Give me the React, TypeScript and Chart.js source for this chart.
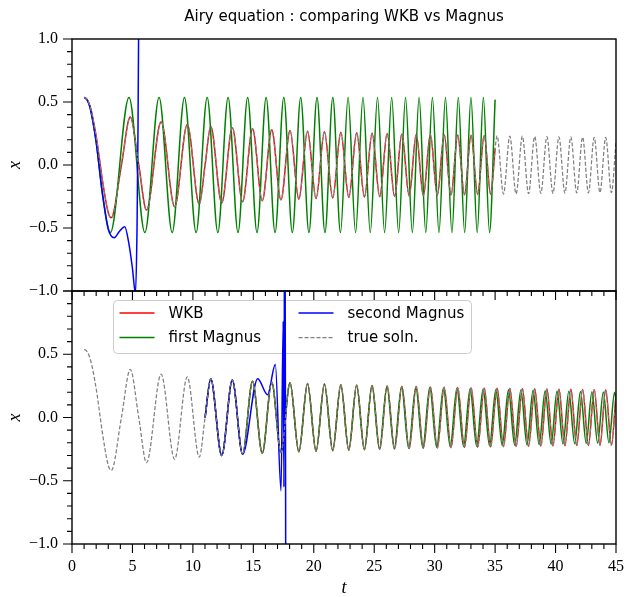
import React, { useEffect, useRef } from "react";
import { Chart, registerables } from "chart.js";

Chart.register(...registerables);

const TITLE = "Airy equation : comparing WKB vs Magnus";
const T_MIN = 0;
const T_MAX = 45;
const X_MIN = -1;
const X_MAX = 1;
const T_STEP = 5;
const X_STEP = 0.5;
const WKB_TOP_END = 35;
const LOWER_START = 11.0085;
const LEGEND_LABELS = ["WKB", "first Magnus", "second Magnus", "true soln."];

// true solution (extrema, zero crossings and a few extra read points)
const trueT = [1.0, 1.0188, 1.5, 2.0, 2.3381, 2.5, 3.0, 3.2482, 4.0879, 4.8201, 5.5206, 6.1633, 7.3722, 8.4885, 9.5345, 10.5277, 11.0085,
  11.4751, 12.3848, 13.263, 14.112, 14.937, 15.739, 16.521, 17.285, 18.033, 18.765, 19.484, 20.189, 20.882, 21.564, 22.236, 22.897,
  23.549, 24.192, 24.826, 25.453, 26.072, 26.684, 27.288, 27.887, 28.478, 29.064, 29.644, 30.218, 30.787, 31.351, 31.909, 32.463,
  33.012, 33.556, 34.097, 34.633, 35.0, 35.164, 35.692, 36.216, 36.736, 37.253, 37.766, 38.275, 38.781, 39.284, 39.784, 40.28,
  40.774, 41.264, 41.752, 42.237, 42.719, 43.198, 43.675, 44.149, 44.621, 45.0];
const trueX = [0.5356, 0.5357, 0.4643, 0.2274, 0, -0.1123, -0.3788, -0.419, 0, 0.3804, 0, -0.3579, 0.3423, -0.3305, 0.321, -0.3132, 0,
  0.3065, -0.3007, 0.2956, -0.2911, 0.287, -0.2833, 0.2798, -0.2767, 0.2738, -0.2711, 0.2685, -0.2662, 0.2639, -0.2618, 0.2598, -0.2579,
  0.2561, -0.2544, 0.2528, -0.2512, 0.2497, -0.2482, 0.2469, -0.2455, 0.2442, -0.243, 0.2418, -0.2406, 0.2395, -0.2384, 0.2374, -0.2364,
  0.2354, -0.2344, 0.2335, -0.2326, 0.131, 0.2317, -0.2308, 0.23, -0.2292, 0.2284, -0.2276, 0.2268, -0.2261, 0.2254, -0.2246, 0.224,
  -0.2233, 0.2226, -0.222, 0.2213, -0.2207, 0.2201, -0.2195, 0.2189, -0.2183, 0.18];

// first Magnus, upper panel
const magnus1TopT = [1.0, 1.25, 1.5, 2.0, 2.5, 3.1755, 4.7165, 6.029, 7.2044, 8.2888, 9.3043, 10.266, 11.183, 12.0635, 12.9116,
  13.7325, 14.529, 15.304, 16.0595, 16.797, 17.519, 18.2255, 18.918, 19.599, 20.268, 20.9255, 21.573, 22.2104, 22.8388, 23.4588,
  24.0705, 24.6743, 25.271, 25.86, 26.443, 27.0193, 27.5894, 28.1538, 28.7124, 29.2655, 29.8133, 30.3563, 30.8944, 31.4276, 31.9564,
  32.4808, 33.0011, 33.5172, 34.0293, 34.5376, 35.0];
const magnus1TopX = [0.5356, 0.517, 0.454, 0.182, -0.215, -0.5356, 0.5356, -0.5356, 0.5356, -0.5356, 0.5356, -0.5356, 0.5356, -0.5356,
  0.5356, -0.5356, 0.5356, -0.5356, 0.5356, -0.5356, 0.5356, -0.5356, 0.5356, -0.5356, 0.5356, -0.5356, 0.5356, -0.5356, 0.5356,
  -0.5356, 0.5356, -0.5356, 0.5356, -0.5356, 0.5356, -0.5356, 0.5356, -0.5356, 0.5356, -0.5356, 0.5356, -0.5356, 0.5356, -0.5356,
  0.5356, -0.5356, 0.5356, -0.5356, 0.5356, -0.5356, 0.519];

// second Magnus, upper panel
const magnus2TopT = [1.0, 1.25, 1.5, 2.0, 2.5, 3.0, 3.5, 3.9, 4.36, 4.7, 5.0, 5.25, 5.38, 5.46, 5.52, 5.6];
const magnus2TopX = [0.5356, 0.517, 0.454, 0.182, -0.215, -0.51, -0.577, -0.53, -0.49, -0.62, -0.82, -1.02, -0.5, 0.3, 1.2, 3.0];

// first Magnus, lower panel
const magnus1BotT = [11.0085, 11.4751, 12.3848, 13.263, 14.112, 14.937, 15.739, 16.521, 17.285, 18.033, 18.765, 19.484, 20.189,
  20.882, 21.564, 22.236, 22.894, 23.543, 24.182, 24.812, 25.435, 26.05, 26.657, 27.257, 27.851, 28.438, 29.019, 29.594, 30.163,
  30.727, 31.286, 31.839, 32.388, 32.931, 33.47, 34.006, 34.537, 35.062, 35.585, 36.104, 36.618, 37.13, 37.637, 38.141, 38.642,
  39.139, 39.634, 40.124, 40.613, 41.097, 41.58, 42.059, 42.536, 43.009, 43.481, 43.949, 44.416, 44.88, 45.0];
const magnus1BotX = [0, 0.3065, -0.3007, 0.2956, -0.2911, 0.287, -0.2833, 0.2798, -0.2767, 0.2738, -0.2711, 0.2685, -0.2662,
  0.2639, -0.2618, 0.2598, -0.2579, 0.2555, -0.2534, 0.2514, -0.2494, 0.2475, -0.2455, 0.2438, -0.242, 0.2403, -0.2386, 0.237, -0.2353,
  0.2338, -0.2322, 0.2307, -0.2293, 0.2278, -0.2263, 0.225, -0.2237, 0.2222, -0.2209, 0.2197, -0.2184, 0.2172, -0.2159, 0.2146, -0.2135,
  0.2123, -0.2111, 0.21, -0.2089, 0.2077, -0.2067, 0.2055, -0.2045, 0.2035, -0.2025, 0.2014, -0.2004, 0.1995, 0.14];

// second Magnus, lower panel
const magnus2BotT = [11.0085, 11.4751, 12.3848, 13.263, 14.112, 15.36, 16.18, 16.82, 17.29, 17.47, 17.53, 17.6, 17.7];
const magnus2BotX = [0, 0.3065, -0.3007, 0.2956, -0.2911, 0.307, 0.18, 0.418, -0.58, 0.76, -0.55, 2.5, -2.5];

type Pt = { x: number; y: number };
const pts = (ts: number[], xs: number[]): Pt[] => ts.map((t, i) => ({ x: t, y: xs[i] }));

const COLORS = { wkb: "#ff0000", m1: "#008000", m2: "#0000ff", tru: "#808080" };
const DASH = [4, 2];
const SERIF = "'Liberation Serif', 'Times New Roman', serif";
const SANS = "'DejaVu Sans', sans-serif";

const fmtY = (v: number) => (v < 0 ? "\u2212" : "") + Math.abs(v).toFixed(1);

const line = (label: string, data: Pt[], color: string, order: number, dashed = false) => ({
  label,
  data,
  borderColor: color,
  backgroundColor: color,
  borderWidth: dashed ? 1.25 : 1.5,
  borderDash: dashed ? DASH : [],
  pointRadius: 0,
  fill: false,
  cubicInterpolationMode: "monotone",
  order,
});

const MAJOR = 9;
const MINOR = 5;

const frameTicks = {
  id: "frameTicks",
  afterDraw(chart: any) {
    const { ctx, chartArea: a, scales } = chart;
    const ys = scales.y;
    const xs = scales.x;
    ctx.save();
    ctx.strokeStyle = "#000";
    ctx.lineWidth = 1.1;
    ctx.beginPath();
    for (let i = Math.round(X_MIN * 10); i <= Math.round(X_MAX * 10); i++) {
      const py = ys.getPixelForValue(i / 10);
      const len = i % 5 === 0 ? MAJOR : MINOR;
      ctx.moveTo(a.left - len, py);
      ctx.lineTo(a.left, py);
    }
    for (let i = T_MIN; i <= T_MAX; i++) {
      const px = xs.getPixelForValue(i);
      const len = i % T_STEP === 0 ? MAJOR : MINOR;
      ctx.moveTo(px, a.bottom);
      ctx.lineTo(px, a.bottom + len);
    }
    ctx.stroke();
    ctx.lineWidth = 1.4;
    ctx.strokeRect(a.left, a.top, a.right - a.left, a.bottom - a.top);
    ctx.restore();
  },
};

const legendBox = {
  id: "legendBox",
  beforeDatasetsDraw(chart: any) {
    const { ctx, chartArea: a } = chart;
    const bx = a.left + 41.5;
    const by = a.top + 9.5;
    const bw = 358;
    const bh = 53;
    ctx.save();
    ctx.beginPath();
    const r = 4;
    ctx.moveTo(bx + r, by);
    ctx.lineTo(bx + bw - r, by);
    ctx.arcTo(bx + bw, by, bx + bw, by + r, r);
    ctx.lineTo(bx + bw, by + bh - r);
    ctx.arcTo(bx + bw, by + bh, bx + bw - r, by + bh, r);
    ctx.lineTo(bx + r, by + bh);
    ctx.arcTo(bx, by + bh, bx, by + bh - r, r);
    ctx.lineTo(bx, by + r);
    ctx.arcTo(bx, by, bx + r, by, r);
    ctx.closePath();
    ctx.fillStyle = "rgba(255,255,255,0.8)";
    ctx.fill();
    ctx.strokeStyle = "#cccccc";
    ctx.lineWidth = 1;
    ctx.stroke();

    const styles: Record<string, { c: string; dash: number[]; w: number }> = {};
    chart.data.datasets.forEach((d: any) => {
      styles[d.label] = { c: d.borderColor, dash: d.borderDash || [], w: d.borderWidth };
    });
    const rows = [by + 12.5, by + 37];
    const cols = [bx + 6, bx + 185];
    const lineLen = 35;
    ctx.font = `15px ${SANS}`;
    ctx.textBaseline = "middle";
    ctx.textAlign = "left";
    LEGEND_LABELS.forEach((lab, i) => {
      const col = Math.floor(i / 2);
      const row = i % 2;
      const s = styles[lab];
      const x0 = cols[col];
      const y0 = rows[row];
      ctx.beginPath();
      ctx.strokeStyle = s.c;
      ctx.lineWidth = s.w;
      ctx.setLineDash(s.dash);
      ctx.moveTo(x0, y0);
      ctx.lineTo(x0 + lineLen, y0);
      ctx.stroke();
      ctx.setLineDash([]);
      ctx.fillStyle = "#000";
      ctx.fillText(lab, x0 + lineLen + 14, y0 + 1);
    });
    ctx.restore();
  },
};

const yScale = (hideTopLabel: boolean) => ({
  type: "linear",
  min: X_MIN,
  max: X_MAX,
  position: "left",
  afterFit: (s: any) => {
    s.width = 72;
    s.paddingTop = 0;
    s.paddingBottom = 0;
    s.paddingLeft = 0;
    s.paddingRight = 0;
  },
  grid: { display: false, drawTicks: false },
  border: { display: false },
  ticks: {
    stepSize: X_STEP,
    padding: 14,
    color: "#000",
    font: { family: SERIF, size: 16 },
    callback: (v: any) => (hideTopLabel && Number(v) === X_MAX ? "" : fmtY(Number(v))),
  },
  title: {
    display: true,
    text: "x",
    color: "#000",
    font: { family: SERIF, size: 18, style: "italic", lineHeight: 1 },
    padding: { top: 6, bottom: 0 },
  },
});

const allPts = pts(trueT, trueX);

const topConfig = (): any => ({
  type: "line",
  data: {
    datasets: [
      line("true soln.", allPts, COLORS.tru, 0, true),
      line("second Magnus", pts(magnus2TopT, magnus2TopX), COLORS.m2, 1),
      line("first Magnus", pts(magnus1TopT, magnus1TopX), COLORS.m1, 2),
      line("WKB", allPts.filter((p) => p.x <= WKB_TOP_END), COLORS.wkb, 3),
    ],
  },
  options: {
    animation: false,
    responsive: false,
    devicePixelRatio: 1,
    events: [],
    layout: { padding: { left: 0, right: 10, top: 0, bottom: 9 } },
    plugins: {
      legend: { display: false },
      tooltip: { enabled: false },
      title: {
        display: true,
        text: TITLE,
        fullSize: false,
        color: "#000",
        font: { family: SANS, size: 15, weight: "normal", lineHeight: 1.2 },
        padding: { top: 8, bottom: 13 },
      },
    },
    scales: {
      x: {
        type: "linear",
        min: T_MIN,
        max: T_MAX,
        display: false,
        afterFit: (s: any) => {
          s.height = 0;
          s.paddingLeft = 0;
          s.paddingRight = 0;
        },
      },
      y: yScale(false),
    },
  },
  plugins: [frameTicks],
});

const bottomConfig = (): any => ({
  type: "line",
  data: {
    datasets: [
      line("true soln.", allPts, COLORS.tru, 0, true),
      line("second Magnus", pts(magnus2BotT, magnus2BotX), COLORS.m2, 1),
      line("first Magnus", pts(magnus1BotT, magnus1BotX), COLORS.m1, 2),
      line("WKB", allPts.filter((p) => p.x >= LOWER_START), COLORS.wkb, 3),
    ],
  },
  options: {
    animation: false,
    responsive: false,
    devicePixelRatio: 1,
    events: [],
    layout: { padding: { left: 0, right: 10, top: 9, bottom: 0 } },
    plugins: {
      legend: { display: false },
      tooltip: { enabled: false },
      title: { display: false },
    },
    scales: {
      x: {
        type: "linear",
        min: T_MIN,
        max: T_MAX,
        position: "bottom",
        afterFit: (s: any) => {
          s.height = 53;
          s.paddingLeft = 0;
          s.paddingRight = 0;
          s.paddingTop = 0;
          s.paddingBottom = 0;
        },
        grid: { display: false, drawTicks: false },
        border: { display: false },
        ticks: {
          stepSize: T_STEP,
          padding: 13,
          color: "#000",
          maxRotation: 0,
          autoSkip: false,
          font: { family: SERIF, size: 16 },
          callback: (v: any) => String(v),
        },
        title: {
          display: true,
          text: "t",
          color: "#000",
          font: { family: SERIF, size: 18, style: "italic", lineHeight: 1 },
          padding: { top: 0, bottom: 0 },
        },
      },
      y: yScale(true),
    },
  },
  plugins: [frameTicks, legendBox],
});

function ChartCanvas({ makeConfig, top, height }: { makeConfig: () => any; top: number; height: number }) {
  const ref = useRef<HTMLCanvasElement>(null);
  useEffect(() => {
    const chart = new Chart(ref.current as HTMLCanvasElement, makeConfig());
    return () => chart.destroy();
  }, []);
  return (
    <canvas
      ref={ref}
      width={626}
      height={height}
      style={{ position: "absolute", left: 0, top, width: 626, height, display: "block" }}
    />
  );
}

export default function App() {
  return (
    <div style={{ position: "absolute", left: 0, top: 0, width: 626, height: 597, background: "#fff" }}>
      <ChartCanvas makeConfig={topConfig} top={0} height={300} />
      <ChartCanvas makeConfig={bottomConfig} top={282} height={315} />
    </div>
  );
}
